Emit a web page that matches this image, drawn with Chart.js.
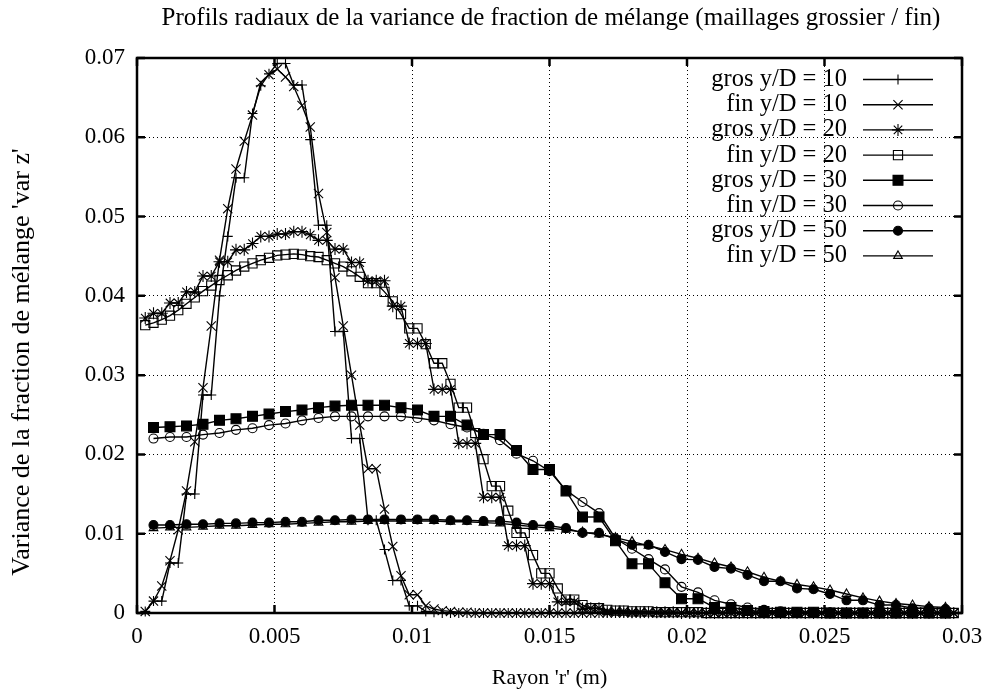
<!DOCTYPE html>
<html>
<head>
<meta charset="utf-8">
<script src="https://cdn.jsdelivr.net/npm/chart.js@4"></script>
<style>
html, body { margin: 0; padding: 0; background: #fff; }
</style>
</head>
<body>
<canvas id="c" width="998" height="693"></canvas>
<script>
// rayons (m) : maillage fin y/D = 10, 20 (pas 0.0003) et y/D = 30, 50 (pas 0.0006)
const rA = [0.0003,0.0006,0.0009,0.0012,0.0015,0.0018,0.0021,0.0024,0.0027,0.003,0.0033,0.0036,0.0039,0.0042,0.0045,0.0048,0.0051,0.0054,0.0057,0.006,0.0063,0.0066,0.0069,0.0072,0.0075,0.0078,0.0081,0.0084,0.0087,0.009,0.0093,0.0096,0.0099,0.0102,0.0105,0.0108,0.0111,0.0114,0.0117,0.012,0.0123,0.0126,0.0129,0.0132,0.0135,0.0138,0.0141,0.0144,0.0147,0.015,0.0153,0.0156,0.0159,0.0162,0.0165,0.0168,0.0171,0.0174,0.0177,0.018,0.0183,0.0186,0.0189,0.0192,0.0195,0.0198,0.0201,0.0204,0.0207,0.021,0.0213,0.0216,0.0219,0.0222,0.0225,0.0228,0.0231,0.0234,0.0237,0.024,0.0243,0.0246,0.0249,0.0252,0.0255,0.0258,0.0261,0.0264,0.0267,0.027,0.0273,0.0276,0.0279,0.0282,0.0285,0.0288,0.0291,0.0294,0.0297];
const rB = [0.0006,0.0012,0.0018,0.0024,0.003,0.0036,0.0042,0.0048,0.0054,0.006,0.0066,0.0072,0.0078,0.0084,0.009,0.0096,0.0102,0.0108,0.0114,0.012,0.0126,0.0132,0.0138,0.0144,0.015,0.0156,0.0162,0.0168,0.0174,0.018,0.0186,0.0192,0.0198,0.0204,0.021,0.0216,0.0222,0.0228,0.0234,0.024,0.0246,0.0252,0.0258,0.0264,0.027,0.0276,0.0282,0.0288,0.0294];

const gros10 = [0.0002,0.0015,0.0015,0.0063,0.0063,0.0150,0.0150,0.0275,0.0275,0.0400,
  0.0475,0.0549,0.0549,0.0630,0.0665,0.0680,0.0693,0.0693,0.0666,0.0666,
  0.0597,0.0489,0.0489,0.0355,0.0355,0.0220,0.0220,0.0117,0.0117,0.0080,
  0.0041,0.0041,0.0009,0.0009,0.0002,0.0001,0,0,0,0,
  0,0,0,0,0,0,0,0,0,0, 0,0,0,0,0,0,0,0,0,0, 0,0,0,0,0,0,0,0,0,0,
  0,0,0,0,0,0,0,0,0,0, 0,0,0,0,0,0,0,0,0,0, 0,0,0,0,0,0,0,0,0];
const fin10 = [0.0002,0.0015,0.0034,0.0066,0.0105,0.0154,0.0216,0.0284,0.0362,0.0445,
  0.0510,0.0560,0.0595,0.0628,0.0669,0.0679,0.0686,0.0676,0.0664,0.0640,
  0.0613,0.0529,0.0480,0.0423,0.0362,0.0300,0.0237,0.0182,0.0182,0.0131,
  0.0084,0.0047,0.0023,0.0023,0.0009,0.0005,0.0003,0.0002,0.0001,0.0001,
  0,0,0,0,0,0,0,0,0,0, 0,0,0,0,0,0,0,0,0,0, 0,0,0,0,0,0,0,0,0,0,
  0,0,0,0,0,0,0,0,0,0, 0,0,0,0,0,0,0,0,0,0, 0,0,0,0,0,0,0,0,0];
const gros20 = [0.0372,0.0378,0.0378,0.0391,0.0391,0.0405,0.0405,0.0425,0.0425,0.0443,
  0.0443,0.0458,0.0458,0.0466,0.0475,0.0475,0.0478,0.0478,0.0481,0.0481,
  0.0477,0.0470,0.0470,0.0459,0.0459,0.0442,0.0442,0.0419,0.0419,0.0419,
  0.0387,0.0387,0.0340,0.0340,0.0340,0.0282,0.0282,0.0282,0.0214,0.0214,
  0.0214,0.0146,0.0146,0.0146,0.0085,0.0085,0.0085,0.0037,0.0037,0.0037,
  0.0014,0.0014,0.0014,0.0006,0.0006,0.0006,0.0002,0.0002,0.0002,0.0001,
  0.0001,0.0001,0.0001,0.0001,0.0001,0,0,0,0,0,
  0,0,0,0,0,0,0,0,0,0, 0,0,0,0,0,0,0,0,0,0, 0,0,0,0,0,0,0,0,0];
const fin20 = [0.0363,0.0366,0.0370,0.0375,0.0382,0.0390,0.0398,0.0406,0.0413,0.0420,
  0.0426,0.0432,0.0437,0.0441,0.0445,0.0448,0.0451,0.0452,0.0453,0.0452,
  0.0450,0.0449,0.0445,0.0441,0.0437,0.0431,0.0424,0.0416,0.0416,0.0405,
  0.0393,0.0377,0.0359,0.0359,0.0339,0.0315,0.0315,0.0289,0.0259,0.0259,
  0.0227,0.0194,0.0160,0.0160,0.0129,0.0101,0.0101,0.0073,0.0050,0.0050,
  0.0031,0.0017,0.0017,0.0010,0.0006,0.0006,0.0004,0.0003,0.0003,0.0002,
  0.0002,0.0002,0.0001,0.0001,0.0001,0.0001,0.0001,0.0001,0,0,
  0,0,0,0,0,0,0,0,0,0, 0,0,0,0,0,0,0,0,0,0, 0,0,0,0,0,0,0,0,0];
const gros30 = [0.0234,0.0235,0.0236,0.0238,0.0243,0.0245,0.0248,0.0251,0.0254,0.0256,
  0.0259,0.0261,0.0262,0.0262,0.0262,0.0259,0.0256,0.0248,0.0248,0.0237,
  0.0225,0.0225,0.0205,0.0181,0.0181,0.0154,0.0121,0.0121,0.0091,0.0062,
  0.0062,0.0038,0.0018,0.0018,0.0007,0.0007,0.0003,0.0002,0.0001,0.0001,
  0.0001,0,0,0,0,0,0,0,0];
const fin30 = [0.0220,0.0222,0.0222,0.0225,0.0227,0.0231,0.0233,0.0237,0.0239,0.0243,
  0.0246,0.0248,0.0248,0.0248,0.0248,0.0248,0.0246,0.0243,0.0238,0.0234,
  0.0226,0.0218,0.0201,0.0192,0.0179,0.0155,0.0140,0.0126,0.0094,0.0081,
  0.0068,0.0055,0.0033,0.0026,0.0016,0.0011,0.0007,0.0004,0.0002,0.0001,
  0.0001,0.0001,0,0,0,0,0,0,0];
const gros50 = [0.0111,0.0111,0.0112,0.0112,0.0113,0.0113,0.0114,0.0114,0.0115,0.0115,
  0.0117,0.0117,0.0118,0.0118,0.0118,0.0118,0.0118,0.0118,0.0117,0.0117,
  0.0116,0.0116,0.0114,0.0111,0.0110,0.0107,0.0101,0.0101,0.0093,0.0086,
  0.0086,0.0077,0.0068,0.0067,0.0058,0.0056,0.0048,0.0040,0.0040,0.0031,
  0.0030,0.0024,0.0016,0.0016,0.0010,0.0010,0.0006,0.0006,0.0005];
const fin50 = [0.0107,0.0108,0.0108,0.0109,0.0110,0.0110,0.0111,0.0112,0.0112,0.0113,
  0.0114,0.0115,0.0115,0.0116,0.0116,0.0116,0.0116,0.0116,0.0115,0.0115,
  0.0114,0.0113,0.0111,0.0109,0.0107,0.0105,0.0102,0.0099,0.0095,0.0090,
  0.0085,0.0080,0.0074,0.0069,0.0063,0.0058,0.0052,0.0045,0.0040,0.0036,
  0.0033,0.0029,0.0024,0.0019,0.0015,0.0012,0.0010,0.0008,0.0007];

const seriesNames = ['gros y/D = 10', 'fin y/D = 10', 'gros y/D = 20', 'fin y/D = 20',
                     'gros y/D = 30', 'fin y/D = 30', 'gros y/D = 50', 'fin y/D = 50'];
const xTicks = [0, 0.005, 0.01, 0.015, 0.02, 0.025, 0.03];
const yTicks = [0, 0.01, 0.02, 0.03, 0.04, 0.05, 0.06, 0.07];

const chartTitle = 'Profils radiaux de la variance de fraction de mélange (maillages grossier / fin)';
const xTitle = "Rayon 'r' (m)";
const yTitle = "Variance de la fraction de mélange 'var z'";

const FONT = "'Liberation Serif', 'Times New Roman', serif";
Chart.defaults.font.family = FONT;
Chart.defaults.font.size = 23;
Chart.defaults.color = '#000';

function pts(rs, vals) {
    return rs.map((r, i) => ({ x: r, y: vals[i] }));
}

// style gnuplot : pt 1..8
const markers = [
    { style: 'cross',    radius: 5,   fill: 'rgba(0,0,0,0)' },
    { style: 'crossRot', radius: 6.5, fill: 'rgba(0,0,0,0)' },
    { style: 'star',     radius: 6,   fill: 'rgba(0,0,0,0)' },
    { style: 'rect',     radius: 6.5, fill: 'rgba(0,0,0,0)' },
    { style: 'rect',     radius: 7,   fill: '#000' },
    { style: 'circle',   radius: 4.5, fill: 'rgba(0,0,0,0)' },
    { style: 'circle',   radius: 4.5, fill: '#000' },
    { style: 'triangle', radius: 5,   fill: 'rgba(0,0,0,0)' }
];
const seriesData = [
    pts(rA, gros10), pts(rA, fin10), pts(rA, gros20), pts(rA, fin20),
    pts(rB, gros30), pts(rB, fin30), pts(rB, gros50), pts(rB, fin50)
];

const datasets = seriesData.map((d, i) => ({
    label: seriesNames[i],
    data: d,
    showLine: true,
    borderColor: '#000',
    borderWidth: 1.4,
    backgroundColor: markers[i].fill,
    pointStyle: markers[i].style,
    pointRadius: markers[i].radius,
    pointBorderColor: '#000',
    pointBackgroundColor: markers[i].fill,
    pointBorderWidth: 1.1,
    tension: 0,
    clip: 8
}));

const framePlugin = {
    id: 'frame',
    afterDraw(chart) {
        const ctx = chart.ctx;
        const a = chart.chartArea;
        const sx = chart.scales.x, sy = chart.scales.y;
        ctx.save();
        ctx.strokeStyle = '#000';
        ctx.lineWidth = 2.5;
        ctx.strokeRect(a.left, a.top, a.right - a.left, a.bottom - a.top);

        // graduations vers l'intérieur, sur les quatre côtés
        ctx.beginPath();
        xTicks.forEach(v => {
            const px = sx.getPixelForValue(v);
            ctx.moveTo(px, a.bottom); ctx.lineTo(px, a.bottom - 8);
            ctx.moveTo(px, a.top); ctx.lineTo(px, a.top + 8);
        });
        yTicks.forEach(v => {
            const py = sy.getPixelForValue(v);
            ctx.moveTo(a.left, py); ctx.lineTo(a.left + 8, py);
            ctx.moveTo(a.right, py); ctx.lineTo(a.right - 8, py);
        });
        ctx.stroke();

        // titres
        ctx.fillStyle = '#000';
        ctx.textAlign = 'center';
        ctx.textBaseline = 'middle';
        ctx.font = '25px ' + FONT;
        ctx.fillText(chartTitle, 551, 18);
        ctx.font = '22px ' + FONT;
        ctx.fillText(xTitle, (a.left + a.right) / 2, 678);
        ctx.save();
        ctx.translate(22, 362);
        ctx.rotate(-Math.PI / 2);
        ctx.font = '26px ' + FONT;
        ctx.fillText(yTitle, 0, 0);
        ctx.restore();

        // légende
        ctx.font = '24.5px ' + FONT;
        ctx.textAlign = 'right';
        chart.data.datasets.forEach((ds, i) => {
            const y = 79.5 + i * 25.2;
            ctx.fillStyle = '#000';
            ctx.fillText(ds.label, 847, y);
            ctx.lineWidth = 1.4;
            ctx.beginPath();
            ctx.moveTo(863, y); ctx.lineTo(933, y);
            ctx.stroke();
            ctx.lineWidth = 1.1;
            ctx.fillStyle = markers[i].fill;
            if (Chart.helpers && Chart.helpers.drawPoint) {
                Chart.helpers.drawPoint(ctx, {
                    pointStyle: markers[i].style, radius: markers[i].radius,
                    rotation: 0, borderWidth: 1.1
                }, 898, y);
            }
        });
        ctx.restore();
    }
};

new Chart(document.getElementById('c'), {
    type: 'scatter',
    data: { datasets },
    options: {
        responsive: false,
        animation: false,
        events: [],
        layout: { padding: { left: 0, top: 58, right: 36, bottom: 0 } },
        plugins: { legend: { display: false }, title: { display: false }, tooltip: { enabled: false } },
        scales: {
            x: {
                type: 'linear', min: 0, max: 0.03,
                afterBuildTicks: s => { s.ticks = xTicks.map(v => ({ value: v })); },
                afterFit: s => { s.height = 80; },
                ticks: { autoSkip: false, maxRotation: 0, padding: 10, callback: v => String(v) },
                grid: { color: '#000', lineWidth: 1, drawTicks: false },
                border: { display: false, dash: [1, 3] }
            },
            y: {
                type: 'linear', min: 0, max: 0.07,
                afterBuildTicks: s => { s.ticks = yTicks.map(v => ({ value: v })); },
                afterFit: s => { s.width = 137; },
                ticks: { autoSkip: false, padding: 12, callback: v => String(v) },
                grid: { color: '#000', lineWidth: 1, drawTicks: false },
                border: { display: false, dash: [1, 3] }
            }
        }
    },
    plugins: [framePlugin]
});
</script>
</body>
</html>
